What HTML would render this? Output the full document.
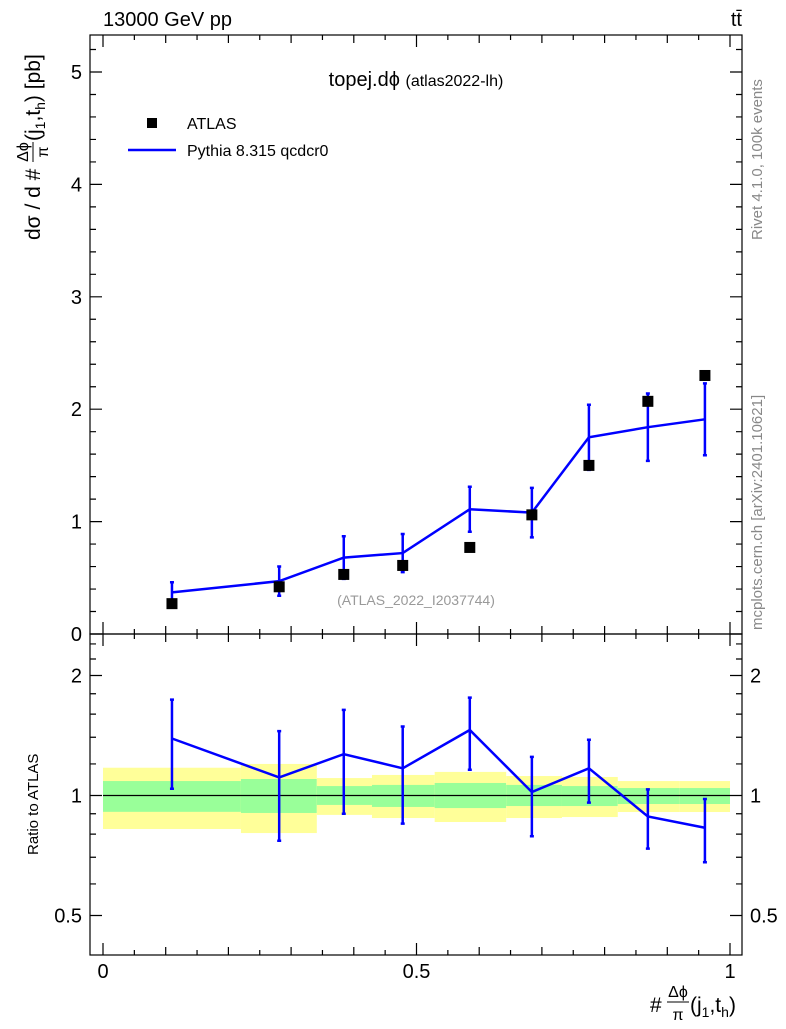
<!DOCTYPE html>
<html><head><meta charset="utf-8"><style>
body{margin:0;background:#fff}
svg text{font-family:"Liberation Sans",sans-serif}
</style></head><body>
<svg id="c" width="786" height="1024" xmlns="http://www.w3.org/2000/svg">
<text x="103" y="26" font-size="20">13000 GeV pp</text>
<text x="742" y="26" font-size="20" text-anchor="end">tt̄</text>
<text x="416" y="86" font-size="20" text-anchor="middle">topej.dϕ <tspan font-size="16">(atlas2022-lh)</tspan></text>
<text x="416" y="605" font-size="14" fill="#999" text-anchor="middle">(ATLAS_2022_I2037744)</text>
<text transform="translate(762,240) rotate(-90)" font-size="15" fill="#888">Rivet 4.1.0,  100k events</text>
<text transform="translate(762,630) rotate(-90)" font-size="15" fill="#888">mcplots.cern.ch [arXiv:2401.10621]</text>
<g transform="translate(40,240) rotate(-90)">
<text x="0" y="0" font-size="21">dσ / d #</text>
<text x="88" y="-12" font-size="16" text-anchor="middle">Δϕ</text>
<line x1="78" x2="98" y1="-7" y2="-7" stroke="#000" stroke-width="1"/>
<text x="88" y="8" font-size="16" text-anchor="middle">π</text>
<text x="99" y="0" font-size="21">(j<tspan font-size="14" dy="5">1</tspan><tspan dy="-5">,t</tspan><tspan font-size="14" dy="5">h</tspan><tspan dy="-5">) [pb]</tspan></text>
</g>
<text transform="translate(38,855) rotate(-90)" font-size="15">Ratio to ATLAS</text>
<g>
<text x="650" y="1012" font-size="21">#</text>
<text x="678" y="997" font-size="16" text-anchor="middle">Δϕ</text>
<line x1="667" x2="689" y1="1002" y2="1002" stroke="#000" stroke-width="1"/>
<text x="678" y="1020" font-size="16" text-anchor="middle">π</text>
<text x="690" y="1012" font-size="21">(j<tspan font-size="14" dy="5">1</tspan><tspan dy="-5">,t</tspan><tspan font-size="14" dy="5">h</tspan><tspan dy="-5">)</tspan></text>
</g>
<g>
<rect x="147" y="118" width="10" height="10" fill="#000"/>
<text x="187" y="129" font-size="16">ATLAS</text>
<line x1="128" y1="150" x2="176" y2="150" stroke="#00f" stroke-width="2.5"/>
<text x="187" y="156" font-size="16">Pythia 8.315 qcdcr0</text>
</g>
<g id="bands"></g><g id="marks"></g><g id="axes"></g>
</svg>
<script>
const xCenters=[0.110,0.281,0.384,0.478,0.585,0.684,0.775,0.869,0.960];
const atlasVals=[0.27,0.42,0.53,0.61,0.77,1.06,1.50,2.07,2.30];
const mcVals=[0.37,0.47,0.68,0.72,1.11,1.08,1.75,1.84,1.91];
const mcErr=[0.09,0.13,0.19,0.17,0.2,0.22,0.29,0.3,0.32];
const ratioVals=[1.39,1.11,1.27,1.17,1.46,1.02,1.17,0.886,0.83];
const ratioErr=[0.35,0.34,0.37,0.32,0.30,0.23,0.21,0.15,0.15];
const binEdges=[0,0.22,0.341,0.429,0.529,0.643,0.732,0.821,0.92,1.0];
const yellowHi=[1.174,1.20,1.106,1.126,1.146,1.119,1.113,1.087,1.087];
const yellowLo=[0.824,0.805,0.894,0.878,0.858,0.878,0.883,0.909,0.909];
const greenHi=[1.087,1.10,1.056,1.063,1.075,1.063,1.056,1.044,1.044];
const greenLo=[0.91,0.904,0.947,0.936,0.930,0.941,0.941,0.952,0.952];
const yTicks=[0,1,2,3,4,5];
const rTicks=[0.5,1,2];
const xTicks=[0,0.5,1];
const NS="http://www.w3.org/2000/svg";
const X=v=>103+v*627, Y=v=>634-v*112.4, R=v=>795.5-Math.log2(v)*120;
function mk(p,t,a){const e=document.createElementNS(NS,t);for(const k in a)e.setAttribute(k,a[k]);document.getElementById(p).appendChild(e);return e;}
for(let i=0;i<binEdges.length-1;i++){
 let e=mk('bands','rect',{x:X(binEdges[i]),y:R(yellowHi[i]),width:X(binEdges[i+1])-X(binEdges[i]),height:R(yellowLo[i])-R(yellowHi[i]),fill:'#ffff99'});
 
 
 e=mk('bands','rect',{x:X(binEdges[i]),y:R(greenHi[i]),width:X(binEdges[i+1])-X(binEdges[i]),height:R(greenLo[i])-R(greenHi[i]),fill:'#99ff99'});
 
 
}
let e=mk('bands','line',{x1:X(0),x2:X(1),y1:R(1),y2:R(1),stroke:'#000','stroke-width':1.2});


e=mk('marks','polyline',{points:xCenters.map((x,i)=>X(x)+','+Y(mcVals[i])).join(' '),fill:'none',stroke:'#00f','stroke-width':2.5});


e=mk('marks','polyline',{points:xCenters.map((x,i)=>X(x)+','+R(ratioVals[i])).join(' '),fill:'none',stroke:'#00f','stroke-width':2.5});


xCenters.forEach((x,i)=>{
 const cx=X(x);
 let t=Y(mcVals[i]+mcErr[i]),b=Y(mcVals[i]-mcErr[i]);
 let g=mk('marks','path',{d:`M${cx},${t}V${b}M${cx-2},${t}h4M${cx-2},${b}h4`,stroke:'#00f','stroke-width':2.5,fill:'none'});
 
 
 t=R(ratioVals[i]+ratioErr[i]);b=R(ratioVals[i]-ratioErr[i]);
 g=mk('marks','path',{d:`M${cx},${t}V${b}M${cx-2},${t}h4M${cx-2},${b}h4`,stroke:'#00f','stroke-width':2.5,fill:'none'});
 
 
 g=mk('marks','rect',{x:cx-5.5,y:Y(atlasVals[i])-5.5,width:11,height:11,fill:'#000'});
 
 
});
e=mk('axes','rect',{x:90,y:35,width:652,height:599,fill:'none',stroke:'#000','stroke-width':1.2});


e=mk('axes','rect',{x:90,y:634,width:652,height:321,fill:'none',stroke:'#000','stroke-width':1.2});


let d='';
for(let v=0;v<=5.3;v+=0.2){const y=Y(v);const L=Math.abs(v-Math.round(v))<1e-6?12:6;d+=`M90,${y}h${L}M742,${y}h${-L}`;}
for(let v=0;v<=1.0001;v+=0.05){const x=X(v);const L=Math.round(v*20)%10==0?12:(Math.round(v*20)%2==0?8:5);d+=`M${x},634v${-L}M${x},35v${L}M${x},955v${-L}M${x},634v${L}`;}
[0.5,0.6,0.7,0.8,0.9,1,1.2,1.4,1.6,1.8,2,2.2,2.4].forEach(v=>{const y=R(v);const L=rTicks.includes(v)?12:6;d+=`M90,${y}h${L}M742,${y}h${-L}`;});
e=mk('axes','path',{d:d,stroke:'#000','stroke-width':1.2,fill:'none'});


yTicks.forEach(v=>{const t=mk('axes','text',{x:82,y:Y(v)+7,'font-size':20,'text-anchor':'end'});t.textContent=v;
 
 });
rTicks.forEach(v=>{let t=mk('axes','text',{x:82,y:R(v)+7,'font-size':20,'text-anchor':'end'});t.textContent=v;
 
 
 t=mk('axes','text',{x:750,y:R(v)+7,'font-size':20});t.textContent=v;
 
 });
xTicks.forEach(v=>{const t=mk('axes','text',{x:X(v),y:978,'font-size':20,'text-anchor':'middle'});t.textContent=v;
 
 });
</script>
</body></html>
